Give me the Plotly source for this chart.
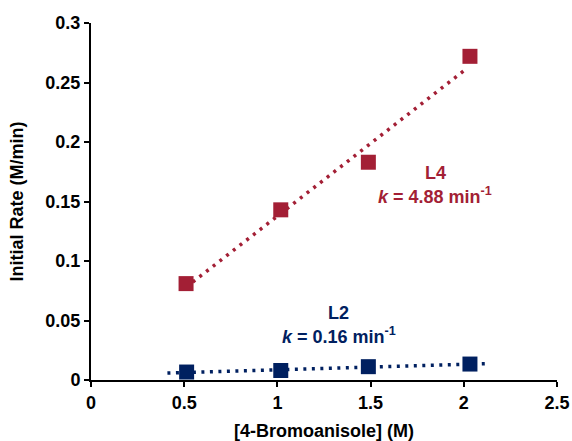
import numpy as np
import plotly.graph_objects as go

# Data
conc_L4 = [0.51, 1.018, 1.488, 2.033]
rate_L4 = [0.081, 0.143, 0.183, 0.272]
conc_L2 = [0.513, 1.018, 1.488, 2.033]
rate_L2 = [0.0067, 0.0080, 0.0112, 0.0134]
trend_L4_range = [0.51, 2.0]
trend_L2_range = [0.41, 2.12]
x_ticks = [0, 0.5, 1, 1.5, 2, 2.5]
x_tick_labels = ["0", "0.5", "1", "1.5", "2", "2.5"]
y_ticks = [0, 0.05, 0.1, 0.15, 0.2, 0.25, 0.3]
y_tick_labels = ["0", "0.05", "0.1", "0.15", "0.2", "0.25", "0.3"]

RED = "#A31F35"
BLUE = "#002060"
FONT = "Liberation Sans, Arial, sans-serif"
FS = 18

def fit_line(xs, ys, rng):
    m, b = np.polyfit(xs, ys, 1)
    xx = np.array(rng)
    return xx, m * xx + b

fig = go.Figure()

for xs, ys, rng, col in [(conc_L4, rate_L4, trend_L4_range, RED),
                         (conc_L2, rate_L2, trend_L2_range, BLUE)]:
    tx, ty = fit_line(xs, ys, rng)
    fig.add_trace(go.Scatter(x=tx, y=ty, mode="lines",
                             line=dict(color=col, width=3.5, dash="3px,5.5px"),
                             showlegend=False, hoverinfo="skip"))
    fig.add_trace(go.Scatter(x=xs, y=ys, mode="markers",
                             marker=dict(symbol="square", size=15, color=col,
                                         line=dict(width=0)),
                             showlegend=False))

ann_font_r = dict(family=FONT, size=FS, color=RED)
ann_font_b = dict(family=FONT, size=FS, color=BLUE)
fig.add_annotation(x=1.846, y=0.174, text="<b>L4</b>", showarrow=False, font=ann_font_r)
fig.add_annotation(x=1.846, y=0.155, text="<b><i>k</i> = 4.88 min<sup>-1</sup></b>",
                   showarrow=False, font=ann_font_r)
fig.add_annotation(x=1.328, y=0.056, text="<b>L2</b>", showarrow=False, font=ann_font_b)
fig.add_annotation(x=1.328, y=0.037, text="<b><i>k</i> = 0.16 min<sup>-1</sup></b>",
                   showarrow=False, font=ann_font_b)

axis_common = dict(showgrid=False, zeroline=False, showline=True, linecolor="black",
                   linewidth=2, ticks="outside", ticklen=5, tickwidth=2, tickcolor="black",
                   automargin=False,
                   tickfont=dict(family=FONT, size=FS, color="black"))

fig.update_xaxes(range=[0, 2.5], tickvals=x_ticks,
                 ticktext=["<b>%s</b>" % t for t in x_tick_labels],
                 title=dict(text="<b>[4-Bromoanisole] (M)</b>", standoff=15,
                            font=dict(family=FONT, size=FS, color="black")),
                 **axis_common)
fig.update_yaxes(range=[0, 0.3], tickvals=y_ticks,
                 ticktext=["<b>%s</b>" % t for t in y_tick_labels],
                 title=dict(text="<b>Initial Rate (M/min)</b>", standoff=17,
                            font=dict(family=FONT, size=FS, color="black")),
                 **axis_common)

fig.update_layout(width=572, height=441, paper_bgcolor="white", plot_bgcolor="white",
                  margin=dict(l=91, r=15, t=23, b=61))

fig.write_html("out.html", config={"displayModeBar": False},
               post_script="document.body.style.margin='0';")
